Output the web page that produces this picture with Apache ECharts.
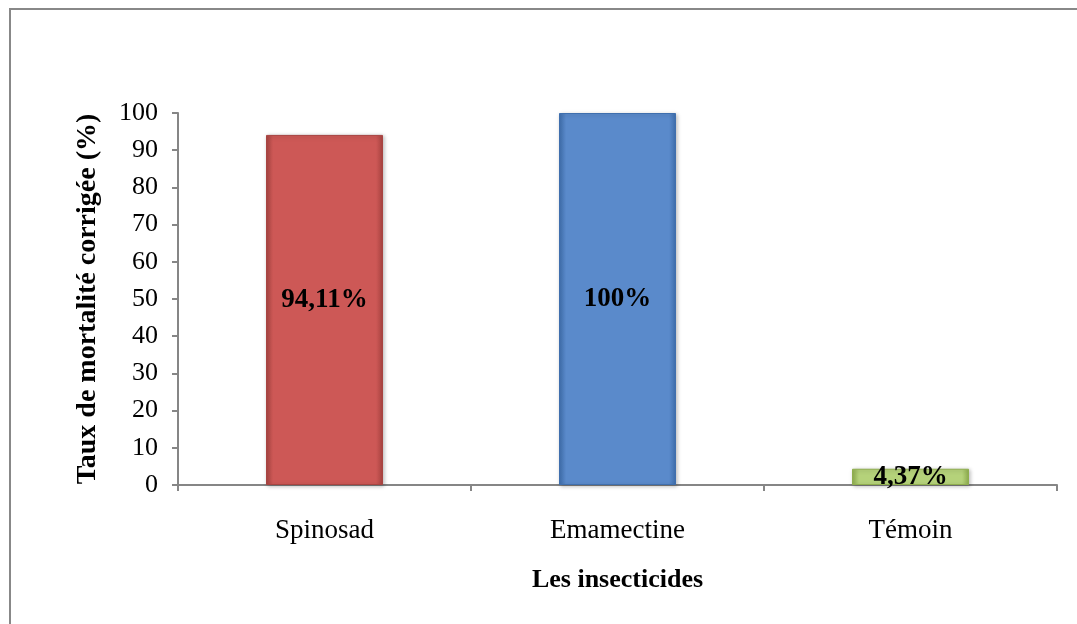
<!DOCTYPE html>
<html>
<head>
<meta charset="utf-8">
<script src="https://cdn.jsdelivr.net/npm/echarts@6/dist/echarts.min.js"></script>
<style>
  html, body { margin: 0; padding: 0; background: #fff; }
  #chart { width: 1077px; height: 624px; }
</style>
</head>
<body>
<div id="chart"></div>
<script>
const categories = ["Spinosad", "Emamectine", "Témoin"];
const values = [94.11, 100, 4.37];
const valueLabels = ["94,11%", "100%", "4,37%"];
const yTicks = [0, 10, 20, 30, 40, 50, 60, 70, 80, 90, 100];

// bar fill: darker edges, lighter middle (bevel look)
const barColors = [
  { edge: "#A84441", mid: "#CD5856" },
  { edge: "#3F6FAE", mid: "#5A8ACB" },
  { edge: "#8FAE4E", mid: "#B5D27A" }
];

const serif = "'Liberation Serif', 'Times New Roman', serif";

const chart = echarts.init(document.getElementById("chart"));

const barData = values.map((v, i) => ({
  value: v,
  itemStyle: {
    color: new echarts.graphic.LinearGradient(0, 0, 1, 0, [
      { offset: 0, color: barColors[i].edge },
      { offset: 0.06, color: barColors[i].mid },
      { offset: 0.94, color: barColors[i].mid },
      { offset: 1, color: barColors[i].edge }
    ]),
    borderColor: barColors[i].edge,
    borderWidth: 1,
    shadowColor: "rgba(0,0,0,0.25)",
    shadowBlur: 4,
    shadowOffsetX: 1,
    shadowOffsetY: 1
  },
  label: {
    formatter: valueLabels[i],
    offset: i === 0 ? [0, -10] : [0, 0]
  }
}));

const option = {
  animation: false,
  graphic: [
    {
      type: "rect",
      shape: { x: 10, y: 9, width: 1100, height: 700 },
      style: { fill: "none", stroke: "#888", lineWidth: 2 }
    }
  ],
  grid: { left: 178, right: 20, top: 113, bottom: 139 },
  xAxis: {
    type: "category",
    data: categories,
    name: "Les insecticides",
    nameLocation: "middle",
    nameGap: 82,
    nameTextStyle: { fontFamily: serif, fontSize: 26, fontWeight: "bold", color: "#000" },
    axisLine: { lineStyle: { color: "#868686", width: 2 } },
    axisTick: { show: true, length: 6, lineStyle: { color: "#868686", width: 2 } },
    axisLabel: { fontFamily: serif, fontSize: 27, color: "#000", margin: 32 }
  },
  yAxis: {
    type: "value",
    min: 0,
    max: 100,
    interval: 10,
    name: "Taux de mortalité corrigée (%)",
    nameLocation: "middle",
    nameGap: 76,
    nameTextStyle: { fontFamily: serif, fontSize: 28, fontWeight: "bold", color: "#000" },
    axisLine: { show: true, lineStyle: { color: "#868686", width: 2 } },
    axisTick: { show: true, length: 6, lineStyle: { color: "#868686", width: 2 } },
    axisLabel: {
      fontFamily: serif, fontSize: 26, color: "#000", margin: 20,
      formatter: v => (yTicks.includes(v) ? String(v) : "")
    },
    splitLine: { show: false }
  },
  series: [
    {
      type: "bar",
      data: barData,
      barWidth: 117,
      label: {
        show: true,
        position: "inside",
        fontFamily: serif,
        fontSize: 27,
        fontWeight: "bold",
        color: "#000"
      }
    }
  ]
};

chart.setOption(option);
window.addEventListener("resize", () => chart.resize());
</script>
</body>
</html>
